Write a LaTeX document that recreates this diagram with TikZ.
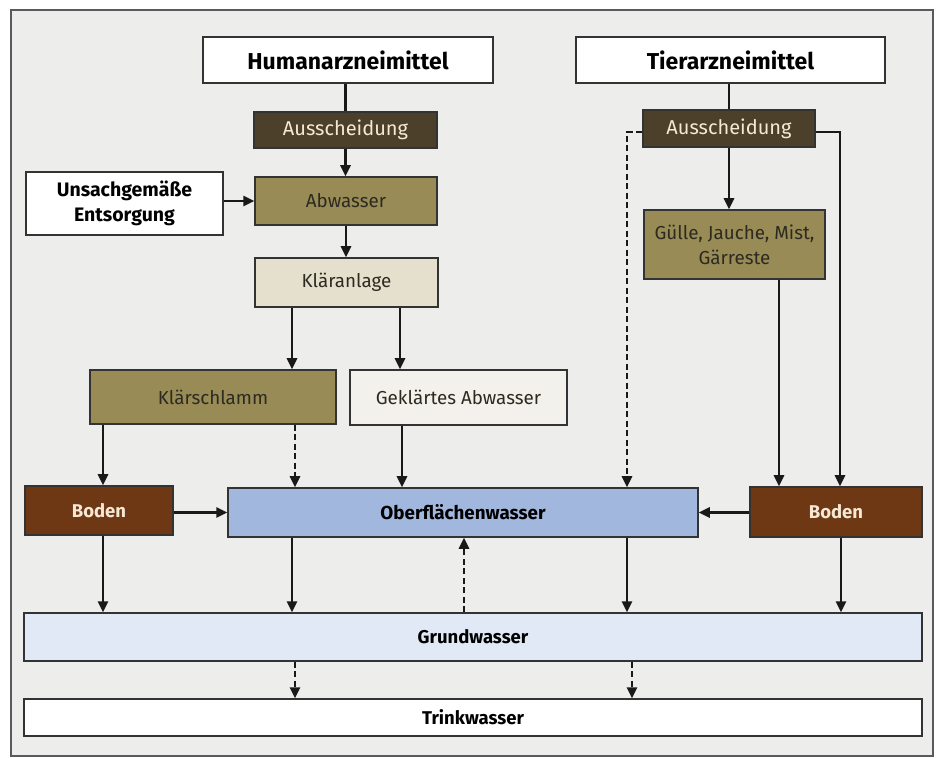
\documentclass[tikz,border=0pt]{standalone}
\usepackage{fontspec}
\setmainfont{Fira Sans}
\usetikzlibrary{arrows.meta, positioning}
\definecolor{rahmen}{RGB}{90,90,90}
\definecolor{papier}{RGB}{237,237,235}
\definecolor{dunkel}{RGB}{76,64,42}
\definecolor{oliv}{RGB}{152,139,86}
\definecolor{beige}{RGB}{229,224,206}
\definecolor{hell}{RGB}{243,241,235}
\definecolor{erde}{RGB}{110,56,20}
\definecolor{blau}{RGB}{162,183,221}
\definecolor{hellblau}{RGB}{226,233,246}
\definecolor{creme}{RGB}{246,232,212}
\definecolor{schrift}{RGB}{45,42,32}
\tikzstyle{kasten} = [draw=black!80, line width=1.5pt, rectangle, inner sep=0pt, text=schrift, font=\fontsize{18.8}{25}\selectfont]
\tikzstyle{titel} = [kasten, fill=white, minimum height=46pt, text=black, font=\fontsize{23}{27}\selectfont\bfseries]
\tikzstyle{weiss} = [kasten, fill=white, text=black, align=center, font=\fontsize{19.5}{25}\selectfont\bfseries]
\tikzstyle{dunkelbox} = [kasten, fill=dunkel, text=creme, font=\fontsize{20}{25}\selectfont]
\tikzstyle{olivbox} = [kasten, fill=oliv, align=center]
\tikzstyle{beigebox} = [kasten, fill=beige]
\tikzstyle{hellbox} = [kasten, fill=hell]
\tikzstyle{bodenbox} = [kasten, fill=erde, text=creme, font=\fontsize{18.5}{25}\selectfont\bfseries]
\tikzstyle{wasser} = [kasten, minimum width=898pt, text=black, font=\fontsize{18.5}{25}\selectfont\bfseries]
\tikzstyle{linie} = [line width=2.5pt, black!90]
\tikzstyle{pfeil} = [linie, -{Triangle[length=11pt, width=10pt]}]
\tikzstyle{strich} = [pfeil, dash pattern=on 6pt off 3.5pt]

\begin{document}
\begin{tikzpicture}[x=1pt, y=-1pt]
	\useasboundingbox (0,0) rectangle (938,759);
	\fill[white] (0,0) rectangle (938,759);
	\draw[rahmen, fill=papier, line width=1.4pt] (11,10) rectangle (933,756);

	\node[titel, minimum width=290pt] (human) at (348,60) {Humanarzneimittel};
	\node[titel, minimum width=309pt] (tier) at (730.5,60) {Tierarzneimittel};
	\node[dunkelbox, minimum width=183pt, minimum height=36pt] (ausH) at (345.5,130) {Ausscheidung};
	\node[dunkelbox, minimum width=172pt, minimum height=37pt] (ausT) at (729,128.5) {Ausscheidung};
	\node[weiss, minimum width=197pt, minimum height=63pt] (entsorgung) at (124.5,203.5) {Unsachgemäße\\Entsorgung};
	\node[olivbox, minimum width=182pt, minimum height=48pt] (abwasser) at (346,201) {Abwasser};
	\node[beigebox, minimum width=183pt, minimum height=49pt] (klaer) at (346.5,282.5) {Kläranlage};
	\node[olivbox, minimum width=181pt, minimum height=69pt] (guelle) at (734.5,244.5) {Gülle, Jauche, Mist,\\Gärreste};
	\node[olivbox, minimum width=246pt, minimum height=54pt] (schlamm) at (213,397) {Klärschlamm};
	\node[hellbox, minimum width=217pt, minimum height=55pt] (geklaert) at (458.5,397.5) {Geklärtes Abwasser};
	\node[bodenbox, minimum width=148pt, minimum height=49pt] (bodenH) at (99,510.5) {Boden};
	\node[kasten, fill=blau, text=black, minimum width=470pt, minimum height=49pt, font=\fontsize{18.8}{25}\selectfont\bfseries] (oberfl) at (463,512.5) {Oberflächenwasser};
	\node[bodenbox, minimum width=172pt, minimum height=50pt] (bodenT) at (836,512) {Boden};
	\node[wasser, fill=hellblau, minimum height=48pt] (grundw) at (473,637) {Grundwasser};
	\node[wasser, fill=white, minimum height=37pt] (trink) at (473,717.5) {Trinkwasser};

	\draw[linie] (human.south -| ausH) -- (ausH.north);
	\draw[pfeil] (ausH.south) -- (ausH.south |- abwasser.north);
	\draw[pfeil] (entsorgung.east |- abwasser) -- (abwasser.west);
	\draw[pfeil] (abwasser.south) -- (abwasser.south |- klaer.north);
	\draw[pfeil] ([xshift=-54.5]klaer.south) -- ([xshift=-54.5]klaer.south |- schlamm.north);
	\draw[pfeil] ([xshift=53.5]klaer.south) -- ([xshift=53.5]klaer.south |- geklaert.north);
	\draw[pfeil] ([xshift=-110]schlamm.south) -- ([xshift=-110]schlamm.south |- bodenH.north);
	\draw[strich] ([xshift=82]schlamm.south) -- ([xshift=82]schlamm.south |- oberfl.north);
	\draw[pfeil] ([xshift=-56.5]geklaert.south) -- ([xshift=-56.5]geklaert.south |- oberfl.north);
	\draw[pfeil] (bodenH.east |- oberfl) -- (oberfl.west);

	\draw[linie] (tier.south -| ausT) -- (ausT.north);
	\draw[pfeil] (ausT.south) -- (ausT.south |- guelle.north);
	\draw[strich] ([yshift=-3.5]ausT.west) -| ([xshift=164]oberfl.north);
	\draw[pfeil] ([yshift=-3.5]ausT.east) -| ([xshift=4]bodenT.north);
	\draw[pfeil] ([xshift=44.5]guelle.south) -- ([xshift=44.5]guelle.south |- bodenT.north);
	\draw[pfeil] (bodenT.west |- oberfl) -- (oberfl.east);

	\draw[pfeil] ([xshift=4]bodenH.south) -- ([xshift=4]bodenH.south |- grundw.north);
	\draw[pfeil] ([xshift=-171]oberfl.south) -- ([xshift=-171]oberfl.south |- grundw.north);
	\draw[pfeil] ([xshift=164]oberfl.south) -- ([xshift=164]oberfl.south |- grundw.north);
	\draw[strich] ([xshift=1]oberfl.south |- grundw.north) -- ([xshift=1]oberfl.south);
	\draw[pfeil] ([xshift=5]bodenT.south) -- ([xshift=5]bodenT.south |- grundw.north);
	\draw[strich] ([xshift=-178]grundw.south) -- ([xshift=-178]grundw.south |- trink.north);
	\draw[strich] ([xshift=159]grundw.south) -- ([xshift=159]grundw.south |- trink.north);
\end{tikzpicture}
\end{document}
